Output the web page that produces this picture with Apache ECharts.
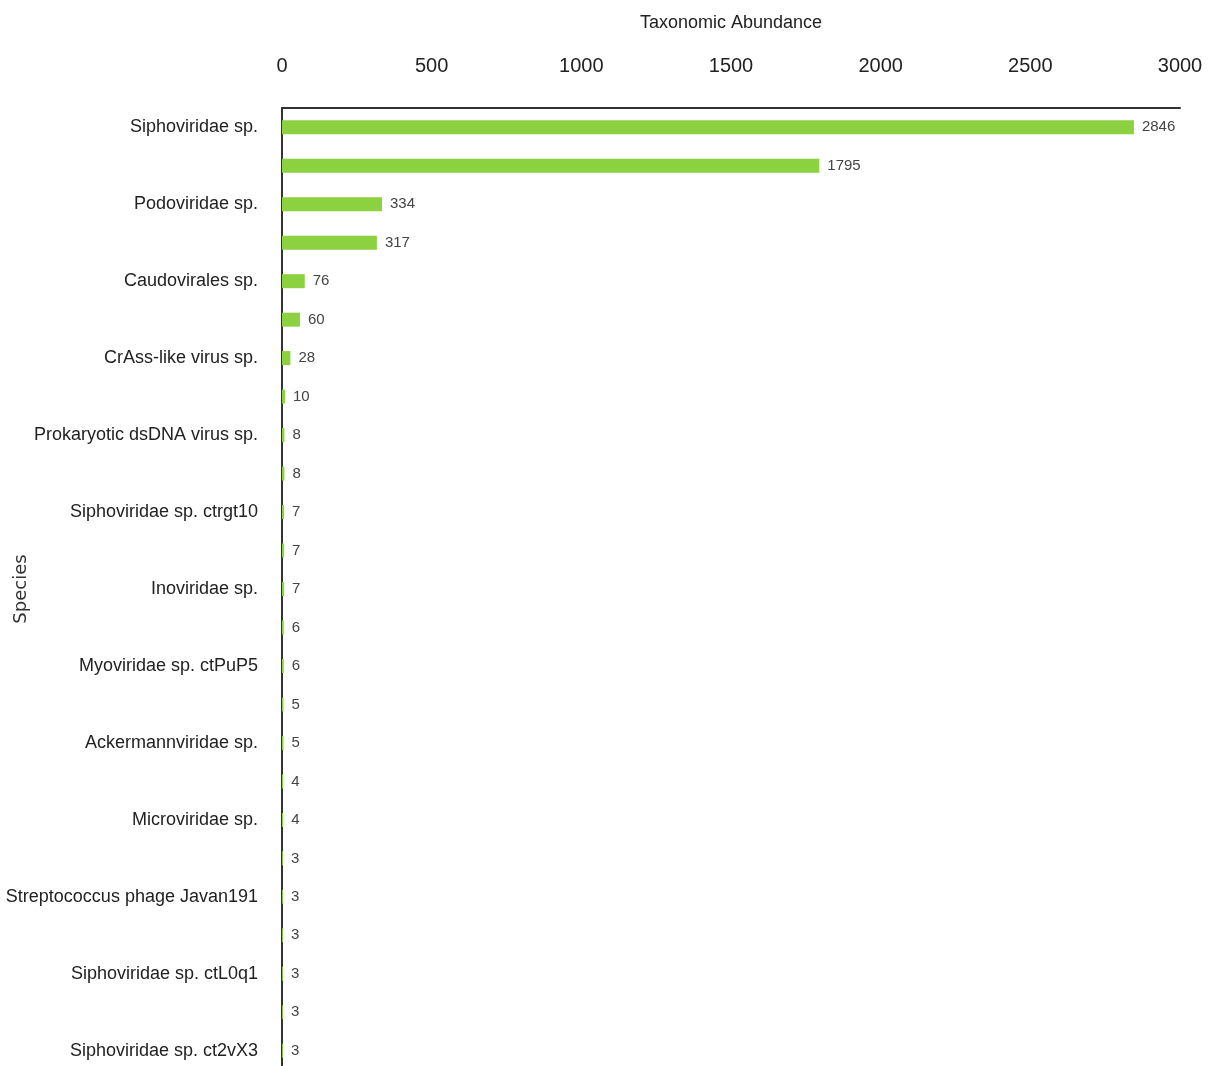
<!DOCTYPE html>
<html>
<head>
<meta charset="utf-8">
<script src="https://cdn.jsdelivr.net/npm/echarts@6/dist/echarts.min.js"></script>
<style>
    html, body { margin: 0; padding: 0; background: #fff; }
    #chart { width: 1213px; height: 1066px; }
</style>
</head>
<body>
<div id="chart"></div>
<script>
// only every second species is labelled in the source figure
const SPECIES = [
    'Siphoviridae sp.', '',
    'Podoviridae sp.', '',
    'Caudovirales sp.', '',
    'CrAss-like virus sp.', '',
    'Prokaryotic dsDNA virus sp.', '',
    'Siphoviridae sp. ctrgt10', '',
    'Inoviridae sp.', '',
    'Myoviridae sp. ctPuP5', '',
    'Ackermannviridae sp.', '',
    'Microviridae sp.', '',
    'Streptococcus phage Javan191', '',
    'Siphoviridae sp. ctL0q1', '',
    'Siphoviridae sp. ct2vX3'
];
const ABUNDANCE = [2846, 1795, 334, 317, 76, 60, 28, 10, 8, 8, 7, 7, 7, 6, 6, 5, 5, 4, 4, 3, 3, 3, 3, 3, 3];
const X_MAX = 3000;
const X_STEP = 500;

const FONT = '"Liberation Sans", Arial, sans-serif';

const chart = echarts.init(document.getElementById('chart'));

const option = {
    animation: false,
    grid: {
        left: 282,
        right: 33,
        top: 108,
        bottom: -4,
        containLabel: false,
        outerBoundsMode: 'none'
    },
    xAxis: {
        type: 'value',
        position: 'top',
        min: 0,
        max: X_MAX,
        interval: X_STEP,
        name: 'Taxonomic Abundance',
        nameLocation: 'middle',
        nameGap: 76,
        nameMoveOverlap: false,
        nameTextStyle: {
            fontFamily: FONT,
            fontSize: 18,
            color: '#222'
        },
        axisLine: {
            show: true,
            lineStyle: { color: '#333', width: 2 }
        },
        axisTick: { show: false },
        splitLine: { show: false },
        axisLabel: {
            margin: 32,
            fontFamily: FONT,
            fontSize: 20,
            color: '#222',
            formatter: v => String(v)
        }
    },
    yAxis: {
        type: 'category',
        inverse: true,
        data: SPECIES,
        name: 'Species',
        nameLocation: 'middle',
        nameGap: 252,
        nameMoveOverlap: false,
        nameTextStyle: {
            fontFamily: '"DejaVu Sans", sans-serif',
            fontSize: 18,
            color: '#333'
        },
        axisLine: {
            show: true,
            lineStyle: { color: '#333', width: 2 }
        },
        axisTick: { show: false },
        axisLabel: {
            interval: 0,
            margin: 24,
            fontFamily: FONT,
            fontSize: 18,
            color: '#222'
        }
    },
    series: [{
        type: 'bar',
        data: ABUNDANCE,
        barWidth: 14,
        itemStyle: { color: '#8cd140' },
        label: {
            show: true,
            position: 'right',
            distance: 8,
            fontFamily: FONT,
            fontSize: 15,
            color: '#444'
        }
    }]
};

chart.setOption(option);
</script>
</body>
</html>
